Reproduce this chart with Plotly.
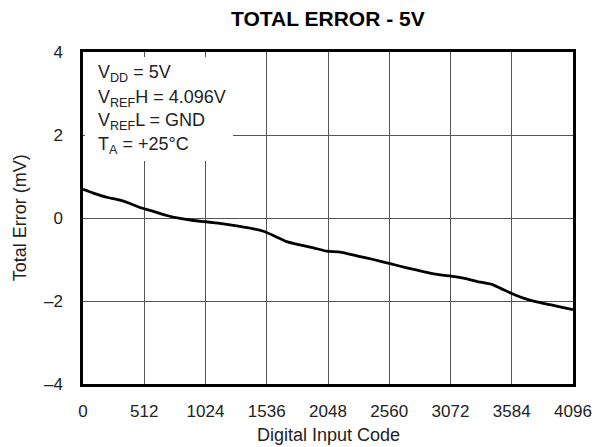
import plotly.graph_objects as go

# Data
codes = [0, 86, 198, 309, 393, 490, 588, 700, 811, 922, 1026, 1145, 1285, 1424, 1508,
         1591, 1703, 1814, 1926, 2037, 2149, 2288, 2427, 2567, 2706, 2845, 2985, 3074,
         3180, 3292, 3417, 3487, 3584, 3681, 3793, 3904, 4016, 4096]
total_error = [0.69, 0.60, 0.50, 0.43, 0.35, 0.24, 0.16, 0.06, -0.01, -0.06, -0.09, -0.13,
               -0.19, -0.26, -0.32, -0.42, -0.57, -0.65, -0.72, -0.80, -0.82, -0.91,
               -1.00, -1.10, -1.20, -1.29, -1.37, -1.40, -1.45, -1.53, -1.60, -1.69,
               -1.82, -1.93, -2.02, -2.09, -2.16, -2.21]

x_ticks = [0, 512, 1024, 1536, 2048, 2560, 3072, 3584, 4096]
x_tick_labels = [str(v) for v in x_ticks]
y_ticks = [-4, -2, 0, 2, 4]
y_tick_labels = ["\u20134", "\u20132", "0", "2", "4"]

title_text = "<b>TOTAL ERROR - 5V</b>"
x_title = "Digital Input Code"
y_title = "Total Error (mV)"
cond_lines = ["V<sub>DD</sub> = 5V",
              "V<sub>REF</sub>H = 4.096V",
              "V<sub>REF</sub>L = GND",
              "T<sub>A</sub> = +25\u00b0C"]

FONT = "Liberation Sans, Arial, Helvetica, sans-serif"
TXT = "#222"

fig = go.Figure()
fig.add_trace(go.Scatter(
    x=codes, y=total_error, mode="lines",
    line=dict(color="black", width=2.8, shape="spline", smoothing=0.6),
    hoverinfo="skip", showlegend=False))

fig.update_layout(
    width=606, height=447,
    margin=dict(l=83, r=33, t=52, b=63),
    paper_bgcolor="white", plot_bgcolor="white",
    font=dict(family=FONT, size=17, color=TXT),
    showlegend=False,
)

fig.update_xaxes(
    range=[0, 4096], tickvals=x_ticks, ticktext=x_tick_labels,
    showgrid=True, gridcolor="#555", gridwidth=1.2,
    zeroline=False, showline=True, linecolor="black", linewidth=2.5, mirror=True,
    ticks="outside", ticklen=0, ticklabelstandoff=10,
    tickfont=dict(size=17, family=FONT, color=TXT),
)
fig.update_yaxes(
    range=[-4, 4], tickvals=y_ticks, ticktext=y_tick_labels,
    showgrid=True, gridcolor="#555", gridwidth=1.2,
    zeroline=False, showline=True, linecolor="black", linewidth=2.5, mirror=True,
    ticks="outside", ticklen=0, ticklabelstandoff=14,
    tickfont=dict(size=17, family=FONT, color=TXT),
)

# white box behind the conditions text
fig.add_shape(type="rect", xref="x domain", yref="y domain",
              x0=0.004, x1=0.306, y0=0.672, y1=0.985,
              fillcolor="white", line=dict(width=0), layer="above")

cond_y = [0.934, 0.861, 0.790, 0.719]
for txt, yy in zip(cond_lines, cond_y):
    fig.add_annotation(text=txt, xref="x domain", yref="y domain",
                       x=0.026, y=yy, xanchor="left", yanchor="middle",
                       showarrow=False, font=dict(size=18, family=FONT, color=TXT))

fig.add_annotation(text=title_text, xref="paper", yref="paper",
                   x=0.5, y=1.10, xanchor="center", yanchor="middle",
                   showarrow=False, font=dict(size=21, family=FONT, color="black"))
fig.add_annotation(text=x_title, xref="paper", yref="paper",
                   x=0.5, y=-0.154, xanchor="center", yanchor="middle",
                   showarrow=False, font=dict(size=18, family=FONT, color=TXT))
fig.add_annotation(text=y_title, xref="paper", yref="paper",
                   x=-0.128, y=0.5, xanchor="center", yanchor="middle", textangle=-90,
                   showarrow=False, font=dict(size=18, family=FONT, color=TXT))

fig.write_html("out.html", config={"displayModeBar": False},
               post_script="document.body.style.margin='0';document.body.style.padding='0';")
